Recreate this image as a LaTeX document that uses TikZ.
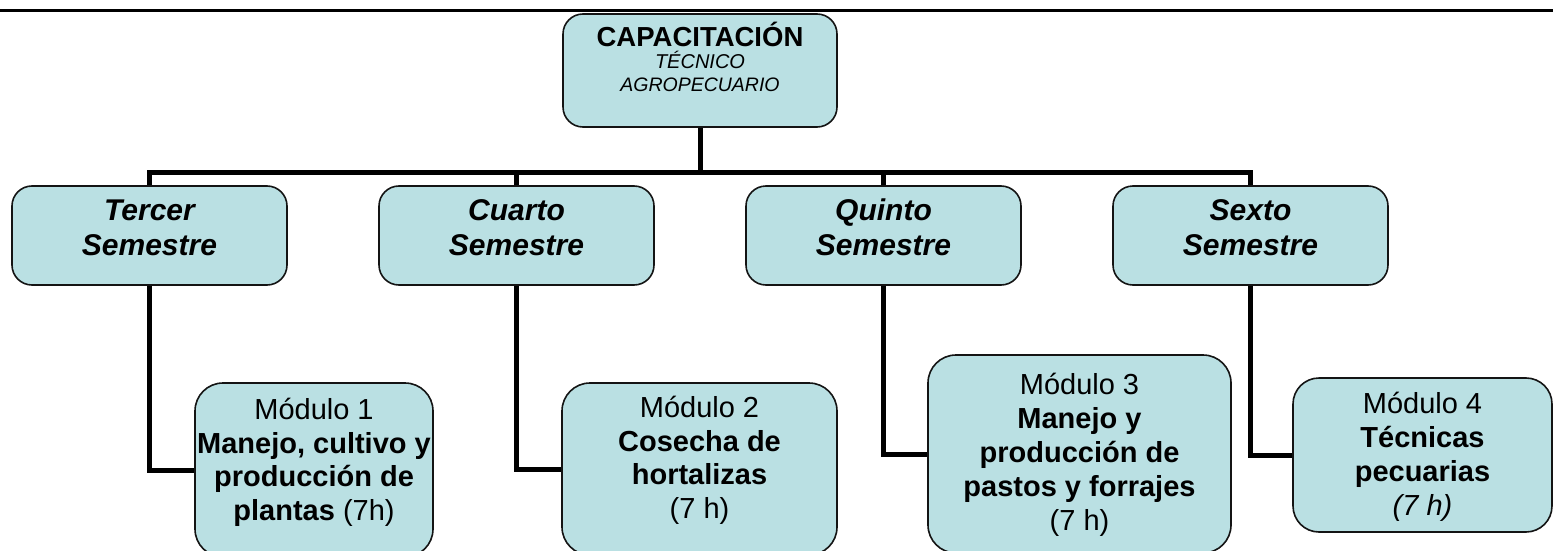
\documentclass[tikz,border=0pt]{standalone}
\usepackage{fontspec}
\setmainfont{Liberation Sans}
\definecolor{boxfill}{RGB}{186,224,227}
\definecolor{edge}{RGB}{20,20,20}
\tikzset{
  rbox/.style={draw=edge, line width=1.6pt, fill=boxfill, rounded corners=#1, inner sep=0pt},
  rbox/.default=20pt,
  conn/.style={line width=5pt, draw=black},
  txt/.style={inner sep=0pt, align=center, anchor=base},
  semtxt/.style={txt, font=\fontsize{30}{35}\selectfont\bfseries\itshape},
  modtxt/.style={txt, font=\fontsize{29}{#1}\selectfont},
  modtxt/.default=33.5pt,
}
\begin{document}
\begin{tikzpicture}[x=1pt,y=-1pt]
\useasboundingbox (0,0) rectangle (1553,551);
\clip (0,0) rectangle (1553,551);
\fill[white] (0,0) rectangle (1553,551);
% top rule
\coordinate (ruleL) at (0,11);
\coordinate (ruleR) at (1553,11);
\draw[line width=3pt] (ruleL) -- (ruleR);

% top box
\node[rbox, minimum width=274pt, minimum height=113pt] (cap) at (700,70.5) {};
\node[txt, font=\fontsize{27.5}{29}\selectfont\bfseries] (capt1) at (700,47) {CAPACITACIÓN};
\node[txt, font=\fontsize{20}{22}\selectfont\itshape] (capt2) at (700,69) {TÉCNICO};
\node[txt, font=\fontsize{19.5}{22}\selectfont\itshape] (capt3) at (700,92) {AGROPECUARIO};

% semester boxes
\node[rbox, minimum width=275pt, minimum height=99pt] (t3) at (149.5,235.5) {};
\node[rbox, minimum width=275pt, minimum height=99pt] (t4) at (516.5,235.5) {};
\node[rbox, minimum width=275pt, minimum height=99pt] (t5) at (883.5,235.5) {};
\node[rbox, minimum width=275pt, minimum height=99pt] (t6) at (1250.5,235.5) {};
\node[semtxt] (t3t) at (149.5,255) {Tercer\\Semestre};
\node[semtxt] (t4t) at (516.5,255) {Cuarto\\Semestre};
\node[semtxt] (t5t) at (883.5,255) {Quinto\\Semestre};
\node[semtxt] (t6t) at (1250.5,255) {Sexto\\Semestre};

% module boxes
\node[rbox=28pt, minimum width=238pt, minimum height=174pt] (m1) at (314,470) {};
\node[rbox=28pt, minimum width=275pt, minimum height=172pt] (m2) at (699.5,469) {};
\node[rbox=28pt, minimum width=303pt, minimum height=198pt] (m3) at (1079.5,454) {};
\node[rbox=26pt, minimum width=259pt, minimum height=154pt] (m4) at (1422.5,455) {};

\node[modtxt] (m1t) at (314,520) {Módulo 1\\\textbf{Manejo, cultivo y}\\\textbf{producción de}\\\textbf{plantas} (7h)};
\node[modtxt] (m2t) at (699.5,518) {Módulo 2\\\textbf{Cosecha de}\\\textbf{hortalizas}\\(7 h)};
\node[modtxt=34pt] (m3t) at (1079.5,530) {Módulo 3\\\textbf{Manejo y}\\\textbf{producción de}\\\textbf{pastos y forrajes}\\(7 h)};
\node[modtxt=34pt] (m4t) at (1422.5,515) {Módulo 4\\\textbf{Técnicas}\\\textbf{pecuarias}\\\textit{(7 h)}};

% connectors
\coordinate (bar) at (700,172);
\draw[conn] (cap.south) -- (bar);
\draw[conn] (t3.north) -- (t3.north |- bar) -- (t6.north |- bar) -- (t6.north);
\draw[conn] (t4.north) -- (t4.north |- bar);
\draw[conn] (t5.north) -- (t5.north |- bar);
\draw[conn] (t3.south) |- (m1.west);
\draw[conn] (t4.south) |- (m2.west);
\draw[conn] (t5.south) |- (m3.west);
\draw[conn] (t6.south) |- (m4.west);
\end{tikzpicture}
\end{document}
